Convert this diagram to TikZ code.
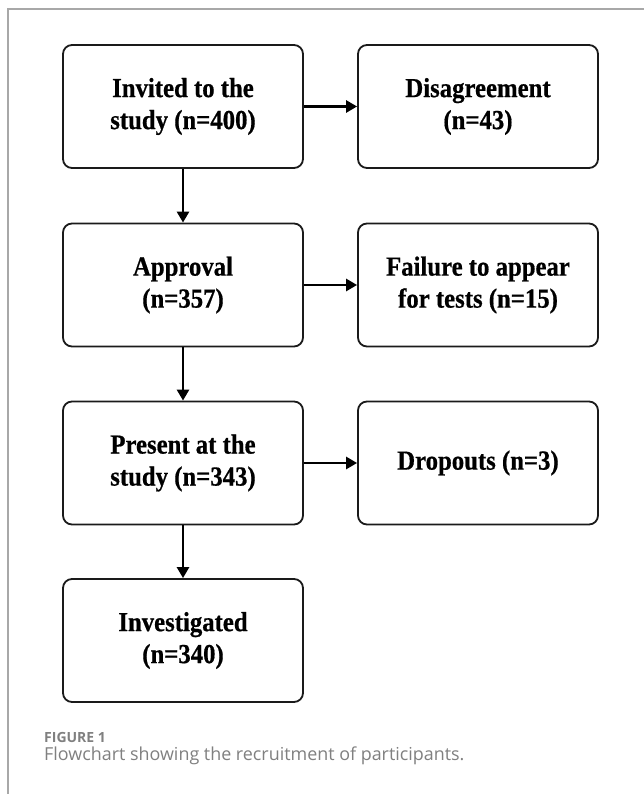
\documentclass[tikz,border=0pt]{standalone}
\usepackage{fontspec}
\setmainfont{Liberation Serif}
\newfontfamily\boxfont{Liberation Serif}[FakeStretch=0.9,FakeBold=0.6]
\newfontfamily\capfont{Open Sans}
\usetikzlibrary{arrows.meta}
\definecolor{boxline}{HTML}{1A1A1A}
\definecolor{framegray}{HTML}{A8A8A8}
\definecolor{capgray}{HTML}{808080}
\tikzset{
  flowbox/.style={draw=boxline, line width=1.8pt, rounded corners=9pt, minimum width=240pt, minimum height=123pt, inner sep=0pt, align=center, font=\boxfont\fontsize{27.5}{32}\selectfont\bfseries, text=black},
  flowarrow/.style={draw=black, line width=2.6pt, -{Triangle[length=11pt,width=12pt]}},
}
\begin{document}
\begin{tikzpicture}[x=1pt,y=1pt]
\useasboundingbox (0,0) rectangle (644,794);
\fill[white] (0,0) rectangle (644,794);
% frame
\draw[framegray, line width=1.5pt] (644,785) -- (8,785) -- (8,0);
% boxes
\node[flowbox] (inv) at (183,687.5) {Invited to the\\study (n=400)};
\node[flowbox] (dis) at (478,687.5) {Disagreement\\(n=43)};
\node[flowbox] (app) at (183,509) {Approval\\(n=357)};
\node[flowbox] (fail) at (478,509) {Failure to appear\\for tests (n=15)};
\node[flowbox] (pres) at (183,331) {Present at the\\study (n=343)};
\node[flowbox] (drop) at (478,331) {Dropouts (n=3)};
\node[flowbox] (invs) at (183,153.5) {Investigated\\(n=340)};
% arrows
\draw[flowarrow] (inv.east) -- (dis.west);
\draw[flowarrow] (app.east) -- (fail.west);
\draw[flowarrow] (pres.east) -- (drop.west);
\draw[flowarrow] (inv.south) -- (app.north);
\draw[flowarrow] (app.south) -- (pres.north);
\draw[flowarrow] (pres.south) -- (invs.north);
% caption
\node[anchor=base west, inner sep=0pt, text=capgray, font=\capfont\fontsize{14}{16}\selectfont\bfseries] (fig) at (44,51) {FIGURE 1};
\node[anchor=base west, inner sep=0pt, text=capgray, font=\capfont\fontsize{17.9}{20}\selectfont] (cap) at (44,33) {Flowchart showing the recruitment of participants.};
\end{tikzpicture}
\end{document}
